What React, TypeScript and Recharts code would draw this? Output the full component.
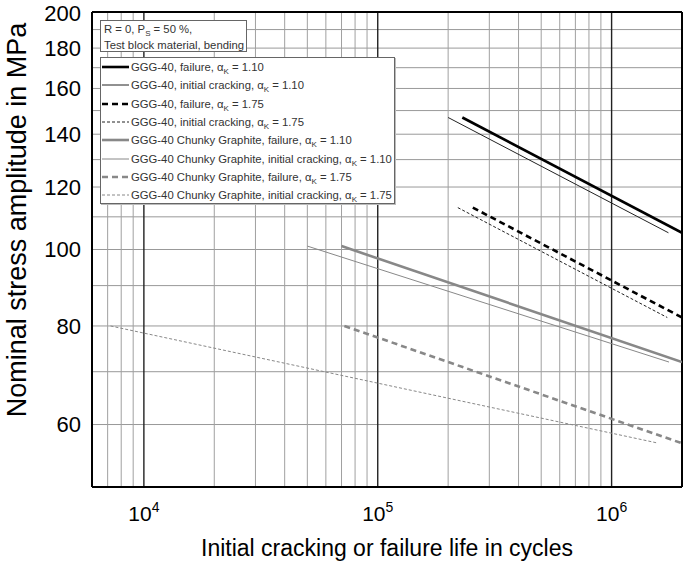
import React from 'react';
import { LineChart, Line, XAxis, YAxis, ReferenceLine, Legend } from 'recharts';

const FONT = '"Liberation Sans", Arial, sans-serif';

// axis ranges and ticks
const xDomain = [6000, 2000000];
const yDomain = [50, 200];
const xTicks = [10000, 100000, 1000000];
const yTicks = [60, 80, 100, 120, 140, 160, 180, 200];

// grid
const xMinorGrid = [
	7000, 8000, 9000, 20000, 30000, 40000, 50000, 60000, 70000, 80000, 90000,
	200000, 300000, 400000, 500000, 600000, 700000, 800000, 900000,
];
const xDecadeGrid = [10000, 100000, 1000000];
const yGrid = [60, 70, 80, 90, 100, 110, 120, 130, 140, 150, 160, 170, 180, 190];

// S-N lines (cycles, MPa)
const ggg40Failure110 = [
	{ x: 230000, y: 147 },
	{ x: 2000000, y: 105 },
];
const ggg40Crack110 = [
	{ x: 200000, y: 147 },
	{ x: 1750000, y: 105 },
];
const ggg40Failure175 = [
	{ x: 255000, y: 113 },
	{ x: 2000000, y: 82 },
];
const ggg40Crack175 = [
	{ x: 220000, y: 113 },
	{ x: 1730000, y: 82 },
];
const chunkyFailure110 = [
	{ x: 70000, y: 101 },
	{ x: 2000000, y: 72 },
];
const chunkyCrack110 = [
	{ x: 50000, y: 101 },
	{ x: 1760000, y: 72 },
];
const chunkyFailure175 = [
	{ x: 72000, y: 80 },
	{ x: 2000000, y: 56.8 },
];
const chunkyCrack175 = [
	{ x: 7200, y: 80 },
	{ x: 1550000, y: 56.9 },
];

const series = [
	{ name: 'GGG-40, failure, ', alpha: '1.10', data: ggg40Failure110, color: '#000', width: 2.6, dash: undefined },
	{ name: 'GGG-40, initial cracking, ', alpha: '1.10', data: ggg40Crack110, color: '#222', width: 1, dash: undefined },
	{ name: 'GGG-40, failure, ', alpha: '1.75', data: ggg40Failure175, color: '#000', width: 2.6, dash: '6 4' },
	{ name: 'GGG-40, initial cracking, ', alpha: '1.75', data: ggg40Crack175, color: '#222', width: 1, dash: '3 2' },
	{ name: 'GGG-40 Chunky Graphite, failure, ', alpha: '1.10', data: chunkyFailure110, color: '#888', width: 2.6, dash: undefined },
	{ name: 'GGG-40 Chunky Graphite, initial cracking, ', alpha: '1.10', data: chunkyCrack110, color: '#888', width: 1, dash: undefined },
	{ name: 'GGG-40 Chunky Graphite, failure, ', alpha: '1.75', data: chunkyFailure175, color: '#888', width: 2.6, dash: '6 4' },
	{ name: 'GGG-40 Chunky Graphite, initial cracking, ', alpha: '1.75', data: chunkyCrack175, color: '#888', width: 1, dash: '3 2' },
];

function DecadeTick({ x, y, payload }: any) {
	const exp = Math.round(Math.log10(payload.value));
	return (
		<text x={x} y={y + 34} textAnchor='middle' fontFamily={FONT} fontSize={21} fill='#000'>
			10
			<tspan dy={-9} fontSize={14}>
				{exp}
			</tspan>
		</text>
	);
}

function Sub({ children }: { children: React.ReactNode }) {
	return <span style={{ fontSize: 8, position: 'relative', top: 3 }}>{children}</span>;
}

function LegendBoxes() {
	const box: React.CSSProperties = {
		position: 'absolute',
		left: 0,
		background: '#fff',
		border: '1px solid #666',
		boxSizing: 'border-box',
		fontFamily: FONT,
		fontSize: 11.3,
		color: '#333',
		whiteSpace: 'nowrap',
	};
	return (
		<div style={{ position: 'relative', width: 295, height: 184 }}>
			<div style={{ ...box, top: 0, width: 147, height: 32, padding: '1px 0 0 3px', lineHeight: '15px' }}>
				<div>
					R = 0, P<Sub>S</Sub> = 50 %,
				</div>
				<div>Test block material, bending</div>
			</div>
			<div style={{ ...box, top: 37, width: 295, height: 147, boxShadow: '1px 1px 0 #bbb' }}>
				{series.map((s, i) => (
					<div key={i} style={{ height: 18.3, display: 'flex', alignItems: 'center' }}>
						<svg width={29} height={10} style={{ flex: 'none' }}>
							<line x1={1} y1={5} x2={28} y2={5} stroke={s.color} strokeWidth={s.width} strokeDasharray={s.dash} />
						</svg>
						<span style={{ marginLeft: 1 }}>
							{s.name}α<Sub>K</Sub> = {s.alpha}
						</span>
					</div>
				))}
			</div>
		</div>
	);
}

export default function App() {
	return (
		<div style={{ width: 685, height: 564, background: '#fff' }}>
			<style>{'body{margin:0}'}</style>
			<LineChart width={685} height={564} margin={{ top: 12, right: 3, bottom: 0, left: 0 }}>
				<XAxis
					type='number'
					dataKey='x'
					scale='log'
					domain={xDomain}
					ticks={xTicks}
					allowDataOverflow
					height={77}
					tickLine={false}
					axisLine={false}
					tickSize={0}
					tickMargin={0}
					tick={<DecadeTick />}
					label={{
						value: 'Initial cracking or failure life in cycles',
						position: 'insideBottom',
						offset: 8,
						style: { fontFamily: FONT, fontSize: 23, fill: '#000' },
					}}
				/>
				<YAxis
					type='number'
					dataKey='y'
					scale='log'
					domain={yDomain}
					ticks={yTicks}
					allowDataOverflow
					width={92}
					tickLine={false}
					axisLine={false}
					tickSize={0}
					tickMargin={11}
					tick={{ fontFamily: FONT, fontSize: 22, fill: '#000' }}
					label={{
						content: () => (
							<text
								x={17}
								y={220}
								transform='rotate(-90 17 220)'
								textAnchor='middle'
								dominantBaseline='central'
								fontFamily={FONT}
								fontSize={27}
								fill='#000'
							>
								Nominal stress amplitude in MPa
							</text>
						),
					}}
				/>
				{yGrid.map((v) => (
					<ReferenceLine key={'h' + v} y={v} stroke='#999' strokeWidth={1} />
				))}
				{xMinorGrid.map((v) => (
					<ReferenceLine key={'v' + v} x={v} stroke='#a0a0a0' strokeWidth={1} />
				))}
				{xDecadeGrid.map((v) => (
					<ReferenceLine key={'d' + v} x={v} stroke='#222' strokeWidth={1.4} />
				))}
				<ReferenceLine x={xDomain[0]} stroke='#000' strokeWidth={2} />
				<ReferenceLine x={xDomain[1]} stroke='#000' strokeWidth={2} />
				<ReferenceLine y={yDomain[0]} stroke='#000' strokeWidth={2} />
				<ReferenceLine y={yDomain[1]} stroke='#000' strokeWidth={2} />
				{series.map((s, i) => (
					<Line
						key={i}
						data={s.data}
						dataKey='y'
						type='linear'
						stroke={s.color}
						strokeWidth={s.width}
						strokeDasharray={s.dash}
						dot={false}
						activeDot={false}
						isAnimationActive={false}
						legendType='none'
					/>
				))}
				<Legend
					layout='vertical'
					align='center'
					verticalAlign='middle'
					content={() => <LegendBoxes />}
					wrapperStyle={{ left: 100, top: 20, width: 295, height: 184 }}
				/>
			</LineChart>
		</div>
	);
}
